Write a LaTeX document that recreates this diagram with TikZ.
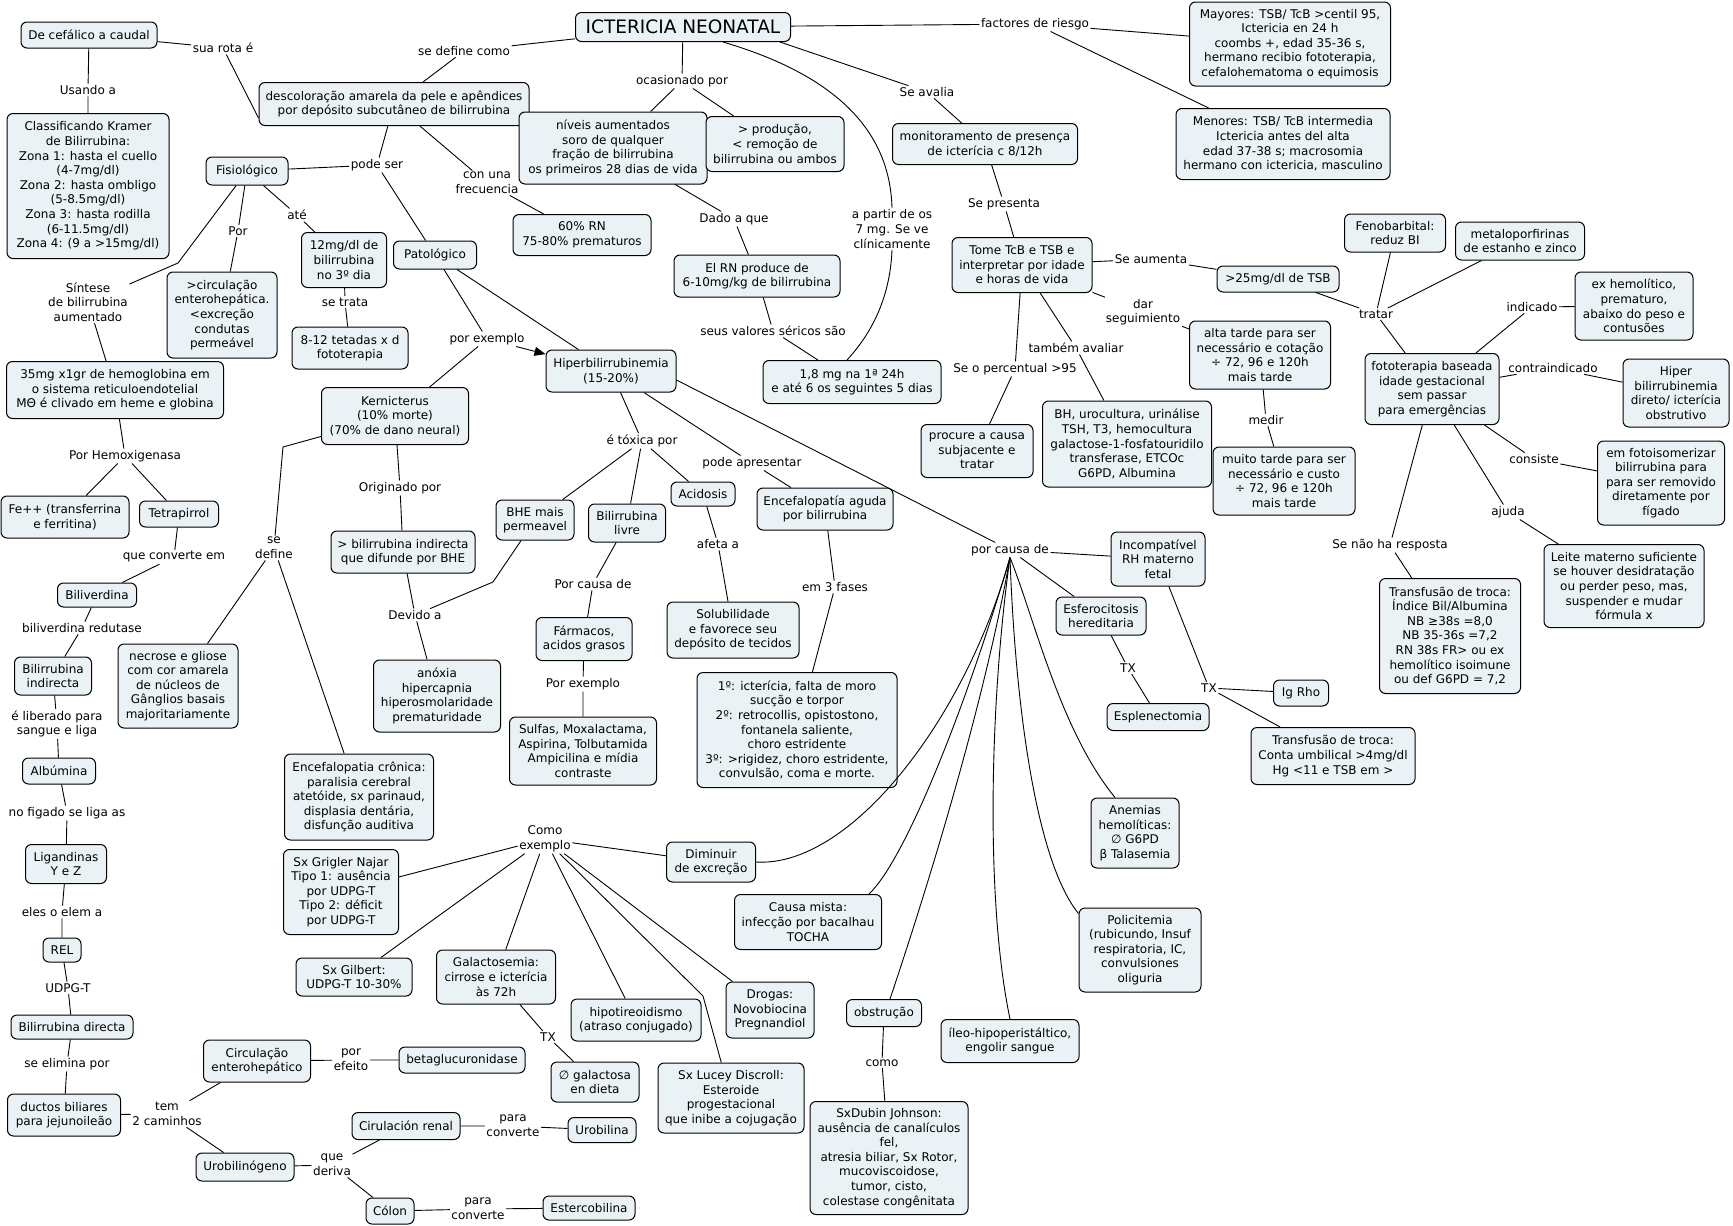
\documentclass[tikz,border=0pt]{standalone}
\usepackage{fontspec}
\setmainfont{DejaVu Sans}
\usetikzlibrary{arrows.meta}
\definecolor{boxfill}{RGB}{235,242,245}
\tikzset{
  box/.style={draw=black, line width=1pt, fill=boxfill, rounded corners=6pt, align=center, inner sep=2.5pt, font=\fontsize{12}{14.6}\selectfont},
  lbl/.style={align=center, inner sep=1.5pt, font=\fontsize{12}{14.6}\selectfont},
  conn/.style={line width=0.9pt, draw=black},
}
\begin{document}
\begin{tikzpicture}[x=1pt,y=-1pt]
\useasboundingbox[fill=white] (0,0) rectangle (1733,1226);
% ---------- boxes ----------
\node[box,minimum width=136pt,minimum height=26pt] (cef) at (89,35) {De cefálico a caudal};
\node[box,minimum width=162pt,minimum height=145pt] (kramer) at (88,186) {Classificando Kramer\\de Bilirrubina:\\Zona 1: hasta el cuello\\(4-7mg/dl)\\Zona 2: hasta ombligo\\(5-8.5mg/dl)\\Zona 3: hasta rodilla\\(6-11.5mg/dl)\\Zona 4: (9 a >15mg/dl)};
\node[box,minimum width=270pt,minimum height=43pt] (desc) at (394,104) {descoloração amarela da pele e apêndices\\por depósito subcutâneo de bilirrubina};
\node[box,minimum width=215pt,minimum height=29pt,font=\fontsize{18.5}{22}\selectfont] (icter) at (683,27) {ICTERICIA NEONATAL};
\node[box,minimum width=82pt,minimum height=28pt] (fisio) at (247,171) {Fisiológico};
\node[box,minimum width=110pt,minimum height=86pt] (circ) at (222,315) {>circulação\\enterohepática.\\<excreção\\condutas\\permeável};
\node[box,minimum width=85pt,minimum height=55pt] (doze) at (344,260) {12mg/dl de\\bilirrubina\\no 3º dia};
\node[box,minimum width=116pt,minimum height=42pt] (tetadas) at (350,348) {8-12 tetadas x d\\fototerapia};
\node[box,minimum width=83pt,minimum height=28pt] (pato) at (435,255) {Patológico};
\node[box,minimum width=217pt,minimum height=57pt] (hemo) at (115,390) {35mg x1gr de hemoglobina em\\o sistema reticuloendotelial\\MΘ é clivado em heme e globina};
\node[box,minimum width=147pt,minimum height=57pt] (kern) at (395,416) {Kernicterus\\(10\% morte)\\(70\% de dano neural)};
\node[box,minimum width=188pt,minimum height=72pt] (niveis) at (613,148) {níveis aumentados\\soro de qualquer\\fração de bilirrubina\\os primeiros 28 dias de vida};
\node[box,minimum width=138pt,minimum height=55pt] (prod) at (775,144) {> produção,\\< remoção de\\bilirrubina ou ambos};
\node[box,minimum width=138pt,minimum height=41pt] (sesenta) at (582,235) {60\% RN\\75-80\% prematuros};
\node[box,minimum width=166pt,minimum height=42pt] (elrn) at (757,276) {El RN produce de\\6-10mg/kg de bilirrubina};
\node[box,minimum width=178pt,minimum height=43pt] (umoito) at (852,382) {1,8 mg na 1ª 24h\\e até 6 os seguintes 5 dias};
\node[box,minimum width=130pt,minimum height=42pt] (hiper) at (611,371) {Hiperbilirrubinemia\\(15-20\%)};
\node[box,minimum width=201pt,minimum height=84pt] (mayores) at (1290,44) {Mayores: TSB/ TcB >centil 95,\\Ictericia en 24 h\\coombs +, edad 35-36 s,\\hermano recibio fototerapia,\\cefalohematoma o equimosis};
\node[box,minimum width=214pt,minimum height=71pt] (menores) at (1283,144) {Menores: TSB/ TcB intermedia\\Ictericia antes del alta\\edad 37-38 s; macrosomia\\hermano con ictericia, masculino};
\node[box,minimum width=185pt,minimum height=41pt] (monitor) at (985,144) {monitoramento de presença\\de icterícia c 8/12h};
\node[box,minimum width=140pt,minimum height=55pt] (tome) at (1022,265) {Tome TcB e TSB e\\interpretar por idade\\e horas de vida};
\node[box,minimum width=122pt,minimum height=26pt] (mais25) at (1278,279) {>25mg/dl de TSB};
\node[box,minimum width=141pt,minimum height=68pt] (alta) at (1260,355) {alta tarde para ser\\necessário e cotação\\÷ 72, 96 e 120h\\mais tarde};
\node[box,minimum width=112pt,minimum height=53pt] (procure) at (977,451) {procure a causa\\subjacente e\\tratar};
\node[box,minimum width=169pt,minimum height=86pt] (bh) at (1127,444) {BH, urocultura, urinálise\\TSH, T3, hemocultura\\galactose-1-fosfatouridilo\\transferase, ETCOc\\G6PD, Albumina};
\node[box,minimum width=142pt,minimum height=68pt] (muito) at (1284,481) {muito tarde para ser\\necessário e custo\\÷ 72, 96 e 120h\\mais tarde};
\node[box,minimum width=101pt,minimum height=38pt] (feno) at (1395,233) {Fenobarbital:\\reduz BI};
\node[box,minimum width=129pt,minimum height=38pt] (metal) at (1520,241) {metaloporfirinas\\de estanho e zinco};
\node[box,minimum width=118pt,minimum height=68pt] (exhemo) at (1634,306) {ex hemolítico,\\prematuro,\\abaixo do peso e\\contusões};
\node[box,minimum width=134pt,minimum height=71pt] (foto) at (1432,389) {fototerapia baseada\\idade gestacional\\sem passar\\para emergências};
\node[box,minimum width=106pt,minimum height=68pt] (hiperdir) at (1676,393) {Hiper\\bilirrubinemia\\direto/ icterícia\\obstrutivo};
\node[box,minimum width=127pt,minimum height=84pt] (fotoiso) at (1661,483) {em fotoisomerizar\\bilirrubina para\\para ser removido\\diretamente por\\fígado};
\node[box,minimum width=160pt,minimum height=83pt] (leite) at (1624,586) {Leite materno suficiente\\se houver desidratação\\ou perder peso, mas,\\suspender e mudar\\fórmula x};
\node[box,minimum width=141pt,minimum height=115pt] (transf) at (1450,636) {Transfusão de troca:\\Índice Bil/Albumina\\NB ≥38s =8,0\\NB 35-36s =7,2\\RN 38s FR> ou ex\\hemolítico isoimune\\ou def G6PD = 7,2};
\node[box,minimum width=55pt,minimum height=26pt] (igrho) at (1301,693) {Ig Rho};
\node[box,minimum width=164pt,minimum height=57pt] (transumb) at (1333,756) {Transfusão de troca:\\Conta umbilical >4mg/dl\\Hg <11 e TSB em >};
\node[box,minimum width=94pt,minimum height=54pt] (incomp) at (1158,559) {Incompatível\\RH materno\\fetal};
\node[box,minimum width=90pt,minimum height=38pt] (esfero) at (1101,616) {Esferocitosis\\hereditaria};
\node[box,minimum width=102pt,minimum height=27pt] (esplen) at (1158,717) {Esplenectomia};
\node[box,minimum width=88pt,minimum height=70pt] (anemias) at (1135,833) {Anemias\\hemolíticas:\\∅ G6PD\\β Talasemia};
\node[box,minimum width=122pt,minimum height=84pt] (polic) at (1140,950) {Policitemia\\(rubicundo, Insuf\\respiratoria, IC,\\convulsiones\\oliguria};
\node[box,minimum width=75pt,minimum height=27pt] (obstr) at (884,1013) {obstrução};
\node[box,minimum width=158pt,minimum height=113pt] (dubin) at (889,1158) {SxDubin Johnson:\\ausência de canalículos\\fel,\\atresia biliar, Sx Rotor,\\mucoviscoidose,\\tumor, cisto,\\colestase congênitata};
\node[box,minimum width=138pt,minimum height=43pt] (ileo) at (1010,1041) {íleo-hipoperistáltico,\\engolir sangue};
\node[box,minimum width=147pt,minimum height=55pt] (mista) at (808,922) {Causa mista:\\infecção por bacalhau\\TOCHA};
\node[box,minimum width=89pt,minimum height=40pt] (dimi) at (711,862) {Diminuir\\de excreção};
\node[box,minimum width=128pt,minimum height=42pt] (fe) at (65,517) {Fe++ (transferrina\\e ferritina)};
\node[box,minimum width=79pt,minimum height=26pt] (tetra) at (179,514) {Tetrapirrol};
\node[box,minimum width=79pt,minimum height=24pt] (biliv) at (97,595) {Biliverdina};
\node[box,minimum width=77pt,minimum height=38pt] (bilind) at (53,676) {Bilirrubina\\indirecta};
\node[box,minimum width=73pt,minimum height=26pt] (albu) at (59,771) {Albúmina};
\node[box,minimum width=120pt,minimum height=84pt] (necro) at (178,686) {necrose e gliose\\com cor amarela\\de núcleos de\\Gânglios basais\\majoritariamente};
\node[box,minimum width=149pt,minimum height=86pt] (encron) at (359,797) {Encefalopatia crônica:\\paralisia cerebral\\atetóide, sx parinaud,\\displasia dentária,\\disfunção auditiva};
\node[box,minimum width=144pt,minimum height=42pt] (bilind2) at (403,552) {> bilirrubina indirecta\\que difunde por BHE};
\node[box,minimum width=127pt,minimum height=72pt] (anoxia) at (437,696) {anóxia\\hipercapnia\\hiperosmolaridade\\prematuridade};
\node[box,minimum width=78pt,minimum height=40pt] (bhe) at (535,520) {BHE mais\\permeavel};
\node[box,minimum width=77pt,minimum height=38pt] (livre) at (627,523) {Bilirrubina\\livre};
\node[box,minimum width=64pt,minimum height=24pt] (acid) at (703,494) {Acidosis};
\node[box,minimum width=136pt,minimum height=42pt] (encag) at (825,509) {Encefalopatía aguda\\por bilirrubina};
\node[box,minimum width=200pt,minimum height=115pt] (fases) at (797,730) {1º: icterícia, falta de moro\\sucção e torpor\\2º: retrocollis, opistostono,\\fontanela saliente,\\choro estridente\\3º: >rigidez, choro estridente,\\convulsão, coma e morte.};
\node[box,minimum width=132pt,minimum height=56pt] (solub) at (733,630) {Solubilidade\\e favorece seu\\depósito de tecidos};
\node[box,minimum width=96pt,minimum height=43pt] (farm) at (584,639) {Fármacos,\\acidos grasos};
\node[box,minimum width=147pt,minimum height=68pt] (sulfas) at (583,751) {Sulfas, Moxalactama,\\Aspirina, Tolbutamida\\Ampicilina e mídia\\contraste};
\node[box,minimum width=81pt,minimum height=39pt] (ligand) at (66,864) {Ligandinas\\Y e Z};
\node[box,minimum width=38pt,minimum height=24pt] (rel) at (62,950) {REL};
\node[box,minimum width=122pt,minimum height=24pt] (bildir) at (72,1027) {Bilirrubina directa};
\node[box,minimum width=113pt,minimum height=42pt] (ductos) at (64,1115) {ductos biliares\\para jejunoileão};
\node[box,minimum width=107pt,minimum height=42pt] (circent) at (257,1061) {Circulação\\enterohepático};
\node[box,minimum width=126pt,minimum height=26pt] (betag) at (462,1060) {betaglucuronidase};
\node[box,minimum width=98pt,minimum height=28pt] (urob) at (245,1167) {Urobilinógeno};
\node[box,minimum width=108pt,minimum height=27pt] (renal) at (406,1126) {Cirulación renal};
\node[box,minimum width=48pt,minimum height=26pt] (colon) at (390,1211) {Cólon};
\node[box,minimum width=68pt,minimum height=25pt] (urobilina) at (602,1130) {Urobilina};
\node[box,minimum width=92pt,minimum height=24pt] (esterc) at (589,1208) {Estercobilina};
\node[box,minimum width=115pt,minimum height=85pt] (grigler) at (341,892) {Sx Grigler Najar\\Tipo 1: ausência\\por UDPG-T\\Tipo 2: déficit\\por UDPG-T};
\node[box,minimum width=116pt,minimum height=38pt] (gilbert) at (354,977) {Sx Gilbert:\\UDPG-T 10-30\%};
\node[box,minimum width=119pt,minimum height=54pt] (galacto) at (496,977) {Galactosemia:\\cirrose e icterícia\\às 72h};
\node[box,minimum width=88pt,minimum height=40pt] (galdiet) at (595,1082) {∅ galactosa\\en dieta};
\node[box,minimum width=130pt,minimum height=42pt] (hipot) at (636,1020) {hipotireoidismo\\(atraso conjugado)};
\node[box,minimum width=88pt,minimum height=56pt] (drogas) at (770,1010) {Drogas:\\Novobiocina\\Pregnandiol};
\node[box,minimum width=146pt,minimum height=70pt] (lucey) at (731,1098) {Sx Lucey Discroll:\\Esteroide\\progestacional\\que inibe a cojugação};
% ---------- linking phrases ----------
\node[lbl] (suarota) at (223,48) {sua rota é};
\node[lbl] (usando) at (88,90) {Usando a};
\node[lbl] (sedefcomo) at (464,51) {se define como};
\node[lbl] (podeser) at (377,165) {pode ser};
\node[lbl] (por) at (238,231) {Por};
\node[lbl] (ate) at (297,215) {até};
\node[lbl] (sintese) at (88,302) {Síntese\\de bilirrubina\\aumentado};
\node[lbl] (setrata) at (345,302) {se trata};
\node[lbl] (ocas) at (682,81) {ocasionado por};
\node[lbl] (conuna) at (487,183) {con una\\frecuencia};
\node[lbl] (dado) at (734,219) {Dado a que};
\node[lbl] (seus) at (773,331) {seus valores séricos são};
\node[lbl] (porex) at (487,339) {por exemplo};
\node[lbl] (apartir) at (892,229) {a partir de os\\7 mg. Se ve\\clínicamente};
\node[lbl] (factores) at (1035,24) {factores de riesgo};
\node[lbl] (seavalia) at (927,92) {Se avalia};
\node[lbl] (sepresenta) at (1004,204) {Se presenta};
\node[lbl] (seaumenta) at (1151,259) {Se aumenta};
\node[lbl] (dar) at (1143,312) {dar\\seguimiento};
\node[lbl] (tambem) at (1076,348) {também avaliar};
\node[lbl] (seperc) at (1015,369) {Se o percentual >95};
\node[lbl] (medir) at (1266,420) {medir};
\node[lbl] (tratar) at (1376,314) {tratar};
\node[lbl] (indicado) at (1532,307) {indicado};
\node[lbl] (contra) at (1553,368) {contraindicado};
\node[lbl] (consiste) at (1534,459) {consiste};
\node[lbl] (ajuda) at (1508,512) {ajuda};
\node[lbl] (senao) at (1390,545) {Se não ha resposta};
\node[lbl] (pcausa) at (1010,550) {por causa de};
\node[lbl] (txa) at (1128,668) {TX};
\node[lbl] (txb) at (1209,688) {TX};
\node[lbl] (como) at (882,1063) {como};
\node[lbl] (hemox) at (125,456) {Por Hemoxigenasa};
\node[lbl] (queconv) at (174,557) {que converte em};
\node[lbl] (bilired) at (82,628) {biliverdina redutase};
\node[lbl] (libera) at (57,724) {é liberado para\\sangue e liga};
\node[lbl] (figado) at (67,813) {no figado se liga as};
\node[lbl] (sedefine) at (274,548) {se\\define};
\node[lbl] (origin) at (400,488) {Originado por};
\node[lbl] (devido) at (415,615) {Devido a};
\node[lbl] (toxica) at (642,441) {é tóxica por};
\node[lbl] (podeap) at (752,463) {pode apresentar};
\node[lbl] (em3) at (835,587) {em 3 fases};
\node[lbl] (afeta) at (718,544) {afeta a};
\node[lbl] (porcausa) at (593,584) {Por causa de};
\node[lbl] (porexb) at (583,684) {Por exemplo};
\node[lbl] (eles) at (62,912) {eles o elem a};
\node[lbl] (udpg) at (68,988) {UDPG-T};
\node[lbl] (seelim) at (67,1064) {se elimina por};
\node[lbl] (tem) at (167,1114) {tem\\2 caminhos};
\node[lbl] (porefeito) at (351,1060) {por\\efeito};
\node[lbl] (quederiva) at (332,1165) {que\\deriva};
\node[lbl] (paraa) at (513,1126) {para\\converte};
\node[lbl] (parab) at (478,1209) {para\\converte};
\node[lbl] (comoex) at (545,839) {Como\\exemplo};
\node[lbl] (txc) at (548,1037) {TX};
% ---------- bend points ----------
\coordinate (s1) at (178,263);
\coordinate (k1) at (283,447);
\coordinate (b1) at (493,582);
\coordinate (l1) at (703,996);
% ---------- connectors ----------
\draw[conn] (cef) -- (suarota);
\draw[conn] (suarota) -- ([yshift=-14pt]desc.west);
\draw[conn] (cef) -- (usando) -- (kramer);
\draw[conn] (icter) -- (sedefcomo) -- (desc);
\draw[conn] (icter) -- (ocas);
\draw[conn] (ocas) -- (niveis);
\draw[conn] (ocas) -- (prod);
\draw[conn] (desc) -- (conuna) -- (sesenta);
\draw[conn] (desc) -- (podeser);
\draw[conn] (fisio) -- (podeser);
\draw[conn] (podeser) -- (pato);
\draw[conn] (fisio) -- (por) -- (circ);
\draw[conn] (fisio) -- (ate) -- (doze);
\draw[conn] (fisio) -- (s1) -- (sintese);
\draw[conn] (sintese) -- (hemo);
\draw[conn] (doze) -- (setrata) -- (tetadas);
\draw[conn] (niveis) -- (dado) -- (elrn) -- (seus) -- (umoito);
\draw[conn] (pato) -- (porex);
\draw[conn,-{Triangle[length=11pt,width=9pt]}] (porex) -- (hiper);
\draw[conn] (porex) -- (kern);
\draw[conn] (pato) -- (hiper);
\draw[conn] (hiper) -- (toxica);
\draw[conn] (toxica) -- (bhe);
\draw[conn] (toxica) -- (livre);
\draw[conn] (toxica) -- (acid);
\draw[conn] (hiper) -- (podeap) -- (encag);
\draw[conn] ([yshift=-9pt]hiper.east) -- (pcausa);
\draw[conn] (kern) -- (k1) -- (sedefine);
\draw[conn] (sedefine) -- (necro);
\draw[conn] (sedefine) -- (encron);
\draw[conn] (kern) -- (origin) -- (bilind2) -- (devido) -- (anoxia);
\draw[conn] (bhe) -- (b1) -- (devido);
\draw[conn] (acid) -- (afeta) -- (solub);
\draw[conn] (livre) -- (porcausa) -- (farm) -- (porexb) -- (sulfas);
\draw[conn] (encag) -- (em3) -- (fases);
\draw[conn] (icter) -- (factores);
\draw[conn] (factores) -- (mayores);
\draw[conn] (factores) -- (menores);
\draw[conn] ([xshift=-11pt]icter.south east) -- (seavalia);
\draw[conn] (seavalia) -- (monitor) -- (sepresenta) -- (tome);
\draw[conn] ([xshift=40pt]icter.south) .. controls (835,75) and (890,130) .. (apartir.north);
\draw[conn] (apartir.south) .. controls (890,300) and (870,335) .. ([xshift=-5pt]umoito.north);
\draw[conn] (tome) -- (seaumenta) -- (mais25);
\draw[conn] (mais25) -- (tratar);
\draw[conn] (feno) -- (tratar);
\draw[conn] (metal) -- (tratar);
\draw[conn] (tratar) -- (foto);
\draw[conn] (tome) -- (dar) -- (alta);
\draw[conn] (alta) -- (medir) -- (muito);
\draw[conn] (tome) -- (tambem) -- (bh);
\draw[conn] (tome) -- (seperc) -- (procure);
\draw[conn] (foto) -- (indicado) -- (exhemo);
\draw[conn] (foto) -- (contra) -- (hiperdir);
\draw[conn] (foto) -- (consiste) -- (fotoiso);
\draw[conn] (foto) -- (ajuda) -- (leite);
\draw[conn] (foto) -- (senao) -- (transf);
\draw[conn] (pcausa) -- (incomp);
\draw[conn] (pcausa) -- (esfero);
\draw[conn] (esfero) -- (txa) -- (esplen);
\draw[conn] (incomp) -- (txb) -- (igrho);
\draw[conn] (txb) -- (transumb);
\draw[conn] (pcausa.south) .. controls (965,720) and (850,868) .. (dimi.east);
\draw[conn] (pcausa.south) .. controls (965,710) and (905,860) .. ([xshift=-13pt]mista.north east);
\draw[conn] (pcausa.south) .. controls (985,700) and (930,880) .. ([xshift=6pt]obstr.north);
\draw[conn] (pcausa.south) .. controls (990,700) and (985,900) .. (ileo.north);
\draw[conn] (pcausa.south) .. controls (1015,700) and (1035,860) .. ([yshift=-6pt]polic.north west);
\draw[conn] (pcausa.south) .. controls (1035,620) and (1060,730) .. ([xshift=-20pt]anemias.north);
\draw[conn] (dimi) -- (comoex);
\draw[conn] (comoex) -- (grigler);
\draw[conn] (comoex) -- (gilbert);
\draw[conn] (comoex) -- (galacto);
\draw[conn] (comoex) -- (hipot);
\draw[conn] (comoex) -- (l1) -- (lucey);
\draw[conn] (comoex) -- (drogas);
\draw[conn] (galacto) -- (txc) -- (galdiet);
\draw[conn] (obstr) -- (como) -- (dubin);
\draw[conn] (hemo) -- (hemox);
\draw[conn] (hemox) -- (fe);
\draw[conn] (hemox) -- (tetra);
\draw[conn] (tetra) -- (queconv) -- (biliv) -- (bilired) -- (bilind) -- (libera) -- (albu) -- (figado) -- (ligand) -- (eles) -- (rel) -- (udpg) -- (bildir) -- (seelim) -- (ductos) -- (tem);
\draw[conn] (tem) -- (circent);
\draw[conn] (tem) -- (urob);
\draw[conn] (circent) -- (porefeito) -- (betag);
\draw[conn] (urob) -- (quederiva);
\draw[conn] (quederiva) -- (renal);
\draw[conn] (quederiva) -- (colon);
\draw[conn] (renal) -- (paraa) -- (urobilina);
\draw[conn] (colon) -- (parab) -- (esterc);
\end{tikzpicture}
\end{document}
